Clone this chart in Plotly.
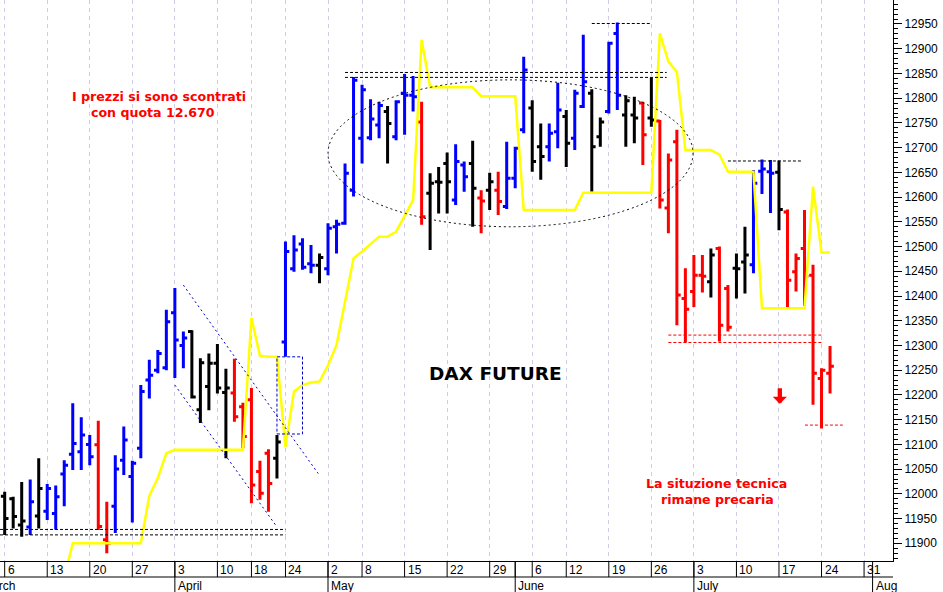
import plotly.graph_objects as go

# ---- data: one entry per trading day, index 0 = 6 March 2017 ----
opens = [11995, 11990, 11937, 11933, 11955, 11965, 11960, 12040, 12080, 12085,
         12100, 12099, 11907, 11975, 12068, 12035, 12092, 12230, 12250, 12255,
         12366, 12300, 12328, 12170, 12217, 12264, 12205, 12204, 12176, 12190,
         12045, 12082, 12072, 12307, 12455, 12505, 12465, 12462, 12455, 12540,
         12547, 12614, 12719, 12720, 12746, 12773, 12722, 12810, 12806, 12752,
         12608, 12631, 12668, 12594, 12665, 12668, 12598, 12614, 12614, 12581,
         12638, 12736, 12780, 12702, 12702, 12732, 12763, 12719, 12783, 12810,
         12722, 12773, 12931, 12766, 12766, 12790, 12760, 12754, 12578, 12712,
         12395, 12409, 12442, 12429, 12496, 12415, 12456, 12469, 12463, 12652,
         12651, 12650, 12570, 12449, 12496, 12442, 12233, 12244]
highs = [12004, 11994, 12024, 12029, 12072, 12020, 12017, 12068, 12183, 12155,
         12119, 12148, 11984, 12078, 12136, 12067, 12220, 12271, 12291, 12372,
         12416, 12328, 12331, 12274, 12284, 12303, 12253, 12273, 12184, 12214,
         12067, 12090, 12119, 12510, 12523, 12517, 12503, 12486, 12547, 12554,
         12668, 12843, 12827, 12798, 12793, 12784, 12796, 12849, 12845, 12793,
         12648, 12661, 12690, 12707, 12672, 12714, 12614, 12649, 12651, 12712,
         12702, 12884, 12796, 12749, 12749, 12831, 12776, 12817, 12928, 12818,
         12761, 12914, 12953, 12806, 12803, 12793, 12842, 12756, 12688, 12736,
         12456, 12483, 12483, 12496, 12500, 12422, 12486, 12540, 12655, 12676,
         12675, 12674, 12575, 12486, 12574, 12463, 12254, 12299]
lows = [11917, 11930, 11913, 11917, 11930, 11947, 11928, 11975, 12048, 12048,
        12058, 11927, 11880, 11921, 12038, 11942, 12072, 12193, 12244, 12250,
        12234, 12254, 12193, 12143, 12169, 12203, 12072, 12146, 12092, 11981,
        11988, 11964, 12031, 12277, 12449, 12453, 12446, 12426, 12442, 12486,
        12544, 12601, 12668, 12715, 12719, 12668, 12715, 12726, 12773, 12544,
        12493, 12567, 12567, 12584, 12611, 12540, 12527, 12574, 12564, 12576,
        12618, 12729, 12651, 12635, 12672, 12699, 12661, 12695, 12780, 12611,
        12702, 12769, 12776, 12702, 12709, 12665, 12742, 12577, 12527, 12341,
        12306, 12378, 12407, 12397, 12308, 12328, 12395, 12405, 12446, 12606,
        12568, 12533, 12378, 12409, 12380, 12180, 12132, 12203]
closes = [11950, 11954, 11945, 11984, 12011, 12011, 11994, 12058, 12102, 12119,
          12075, 11934, 11900, 12050, 12109, 12062, 12207, 12240, 12284, 12348,
          12311, 12315, 12196, 12265, 12264, 12214, 12214, 12156, 12116, 12018,
          12001, 12021, 12105, 12490, 12493, 12458, 12462, 12478, 12537, 12545,
          12648, 12836, 12817, 12758, 12785, 12749, 12793, 12806, 12803, 12560,
          12628, 12630, 12631, 12672, 12641, 12618, 12592, 12631, 12591, 12638,
          12699, 12857, 12672, 12682, 12729, 12776, 12709, 12810, 12833, 12702,
          12752, 12911, 12806, 12795, 12760, 12726, 12756, 12594, 12675, 12402,
          12373, 12442, 12440, 12483, 12341, 12337, 12455, 12483, 12628, 12657,
          12648, 12575, 12432, 12476, 12440, 12244, 12250, 12258]
# k = black, b = blue, r = red
bar_colors = list("kkkbkbbbbbbrrbbbbbbbbbkkkkkrrrrrkbbbbkbbbbbbbkbbbrkkkbbkrkrbbbkkbbkbbkkbbkkrkrrrrrrkrrkkbbbkrrrrrr")
stop_line = [None, None, None, None, None, None, None, 11830,
             11900, 11900, 11900, 11900, 11900, 11900, 11900, 11900, 11900,
             11996, 12032, 12082,
             12089, 12089, 12089, 12089, 12089, 12089, 12089, 12089, 12089,
             12356, 12279, 12277, 12277, 12095,
             12207, 12220, 12225, 12227, 12260,
             12301, 12388, 12476, 12490, 12505, 12520, 12520, 12530, 12562, 12594,
             12918,
             12822, 12822, 12822, 12822, 12822, 12822,
             12804, 12804, 12804, 12804, 12804,
             12574, 12574, 12574, 12574, 12574, 12574, 12574,
             12609, 12609, 12609, 12609, 12609, 12609, 12609, 12609, 12609,
             12931, 12874, 12853,
             12695, 12695, 12695, 12695, 12686,
             12651, 12651, 12651, 12651,
             12375, 12375, 12375, 12375, 12375, 12375,
             12621, 12488, 12488]

week_tick_days = [0, 5, 10, 15, 20, 25, 29, 33, 38, 42, 47, 52, 57, 62, 66, 71, 76, 81, 86, 91, 96, 101]
week_tick_labels = ['6', '13', '20', '27', '3', '10', '18', '24', '2', '8', '15', '22', '29',
                    '6', '12', '19', '26', '3', '10', '17', '24', '31']
month_days = [-3, 20, 38, 60, 81, 102]
month_labels = ['March', 'April', 'May', 'June', 'July', 'Aug']

X_MIN, X_MAX = -0.55, 104.4
Y_MIN, Y_MAX = 11864.2, 12998.5
PLOT_W, PLOT_H = 893, 561

COLORS = {'k': '#000000', 'b': '#0000ff', 'r': '#ff0000'}

fig = go.Figure()
for code, col in COLORS.items():
    ids = [i for i, c in enumerate(bar_colors) if c == code]
    fig.add_trace(go.Ohlc(
        x=ids,
        open=[opens[i] for i in ids], high=[highs[i] for i in ids],
        low=[lows[i] for i in ids], close=[closes[i] for i in ids],
        increasing=dict(line=dict(color=col, width=3)),
        decreasing=dict(line=dict(color=col, width=3)),
        tickwidth=0.45, showlegend=False, hoverinfo='skip'))

fig.add_trace(go.Scatter(x=list(range(len(stop_line))), y=stop_line, mode='lines',
                         line=dict(color='#ffff00', width=2.5), showlegend=False,
                         hoverinfo='skip'))

shapes = []
def hline(x0, x1, y, color, dash):
    shapes.append(dict(type='line', xref='x', yref='y', x0=x0, x1=x1, y0=y, y1=y,
                       line=dict(color=color, width=1, dash=dash)))

# support / resistance lines
hline(X_MIN, 33.0, 11928, 'black', '3px,2px')
hline(X_MIN, 33.0, 11917, 'black', '3px,2px')
hline(40.0, 77.8, 12852, 'black', '3px,2px')
hline(40.0, 77.8, 12842, 'black', '3px,2px')
hline(69.0, 76.0, 12951, 'black', '3px,2px')
hline(85.0, 93.8, 12673, 'black', '3px,2px')
hline(78.0, 96.0, 12321, '#ff0000', '3px,2px')
hline(78.0, 96.0, 12306, '#ff0000', '3px,2px')
hline(94.05, 98.5, 12139, '#ff0000', '3px,2px')

# descending channel
shapes.append(dict(type='line', xref='x', yref='y', x0=21.0, y0=12422, x1=36.85, y1=12041,
                   line=dict(color='#0000cc', width=1, dash='2px,3px')))
shapes.append(dict(type='line', xref='x', yref='y', x0=20.0, y0=12220, x1=31.96, y1=11934,
                   line=dict(color='#0000cc', width=1, dash='2px,3px')))
shapes.append(dict(type='rect', xref='x', yref='y', x0=32.0, x1=35.0, y0=12121, y1=12277,
                   line=dict(color='#0000cc', width=1, dash='3px,2px')))
# congestion ellipse
shapes.append(dict(type='circle', xref='x', yref='y', x0=38.0, x1=80.9, y0=12540, y1=12837,
                   line=dict(color='black', width=1, dash='2px,3px')))

# date axis boxes
row_h = 16 / PLOT_H
for d in week_tick_days + [60]:
    shapes.append(dict(type='line', xref='x', yref='paper', x0=d, x1=d, y0=0, y1=-row_h,
                       line=dict(color='black', width=1)))
for d in month_days:
    shapes.append(dict(type='line', xref='x', yref='paper', x0=d, x1=d, y0=0, y1=-32 / PLOT_H,
                       line=dict(color='black', width=1)))
shapes.append(dict(type='line', xref='paper', yref='paper', x0=0, x1=1, y0=-row_h, y1=-row_h,
                   line=dict(color='black', width=1)))

annotations = []
axis_font = dict(family='Liberation Sans, Arial', size=12, color='black')
for d, t in zip(week_tick_days, week_tick_labels):
    annotations.append(dict(x=d, xref='x', y=0, yref='paper', text=t, showarrow=False,
                            xanchor='left', yanchor='middle', xshift=1, yshift=-8.5,
                            font=axis_font))
px_per_day = PLOT_W / (X_MAX - X_MIN)
for d, t in zip(month_days, month_labels):
    xa = d if d >= X_MIN else X_MIN + 0.05
    annotations.append(dict(x=xa, xref='x', y=0, yref='paper', text=t, showarrow=False,
                            xanchor='left', yanchor='middle',
                            xshift=1 + (d - xa) * px_per_day, yshift=-24.5,
                            font=axis_font))

red_font = dict(family='DejaVu Sans, Verdana', size=12.6, color='#ff0000')
annotations += [
    dict(x=18.13, y=12804, text='<b>I prezzi si sono scontrati</b>', showarrow=False,
         xanchor='center', yanchor='middle', font=red_font),
    dict(x=17.43, y=12772, text='<b>con quota 12.670</b>', showarrow=False,
         xanchor='center', yanchor='middle', font=red_font),
    dict(x=57.67, y=12244, text='<b>DAX FUTURE</b>', showarrow=False,
         xanchor='center', yanchor='middle',
         font=dict(family='DejaVu Sans, Verdana', size=18.5, color='black')),
    dict(x=83.6, y=12020, text='<b>La situzione tecnica</b>', showarrow=False,
         xanchor='center', yanchor='middle', font=red_font),
    dict(x=83.8, y=11988, text='<b>rimane precaria</b>', showarrow=False,
         xanchor='center', yanchor='middle', font=red_font),
    dict(x=91.1, y=12182, text='', showarrow=True, ax=0, ay=-17, axref='pixel', ayref='pixel',
         arrowhead=1, arrowwidth=4.3, arrowsize=0.55, arrowcolor='#ff0000', standoff=0),
]

fig.update_layout(
    width=943, height=592, margin=dict(l=0, r=943 - PLOT_W, t=0, b=592 - PLOT_H),
    paper_bgcolor='white', plot_bgcolor='white', showlegend=False,
    xaxis=dict(range=[X_MIN, X_MAX], tickmode='array', tickvals=week_tick_days,
               showticklabels=False, ticks='', showgrid=True, gridcolor='#cdcdea',
               griddash='4px,4px', gridwidth=1, zeroline=False, showline=True,
               linecolor='black', linewidth=1, mirror=True,
               rangeslider=dict(visible=False), fixedrange=True),
    yaxis=dict(range=[Y_MIN, Y_MAX], side='right', tickmode='linear', tick0=11900, dtick=50,
               tickformat='d', ticks='outside', ticklen=8, tickcolor='black', showgrid=False,
               zeroline=False, showline=True, linecolor='black', linewidth=1,
               tickfont=axis_font,
               minor=dict(tickmode='linear', tick0=11900, dtick=10, ticklen=4,
                          tickcolor='black', ticks='outside', showgrid=False),
               fixedrange=True),
    shapes=shapes, annotations=annotations,
)

fig.write_html("out.html", config={'displayModeBar': False},
               post_script="document.body.style.margin='0px';")
